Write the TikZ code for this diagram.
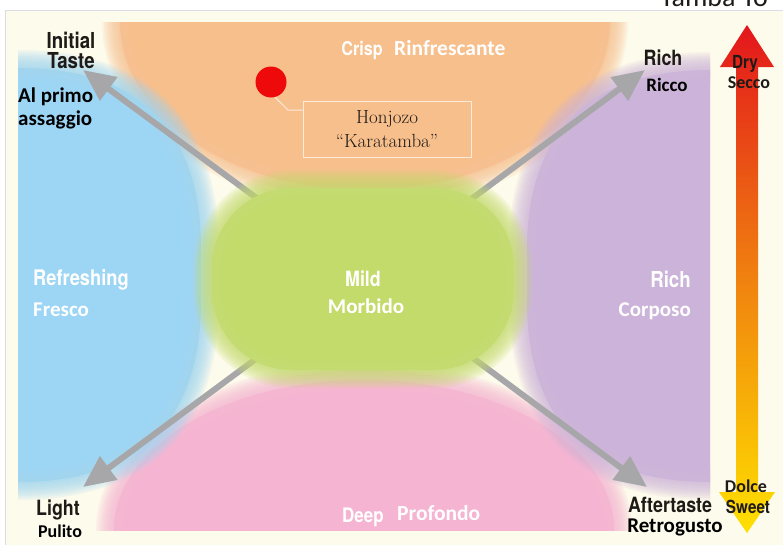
\documentclass[tikz,border=0pt]{standalone}
\usepackage{fontspec}
\usetikzlibrary{arrows.meta}
\newfontfamily\condf[FakeStretch=0.85]{TeX Gyre Heros}
\newfontfamily\calf{Carlito}
\definecolor{cream}{HTML}{FDFBEB}
\definecolor{frameline}{HTML}{DCDCE6}
\definecolor{orangeB}{HTML}{F7BF8C}
\definecolor{blueB}{HTML}{9DD5F4}
\definecolor{purpleB}{HTML}{CCB3D9}
\definecolor{pinkB}{HTML}{F5B4D1}
\definecolor{greenB}{HTML}{C3DB6A}
\definecolor{arrowgray}{HTML}{A7A7A9}
\definecolor{dotred}{HTML}{EE0A0A}
\definecolor{boxline}{HTML}{FCEBD9}
\definecolor{ink}{HTML}{1E1A17}
\definecolor{dryred}{HTML}{E3161C}
\definecolor{midorange}{HTML}{F0820F}
\definecolor{sweetyellow}{HTML}{FFE000}
\newcommand\softblob[2]{%
  \fill[#1] #2;
  \begin{scope}\clip #2;
    \foreach \w in {4,8,...,24}{\draw[cream, draw opacity=0.05, line width=\w pt] #2;}%
  \end{scope}
  \foreach \w in {4,8,...,36}{\draw[#1, draw opacity=0.14, line width=\w pt] #2;}%
}
\begin{document}
\begin{tikzpicture}[x=1pt,y=-1pt,
  cb/.style={font={\condf\bfseries\fontsize{#1}{#1}\selectfont}, inner sep=0pt, anchor=base},
  ca/.style={font={\calf\bfseries\fontsize{#1}{#1}\selectfont}, inner sep=0pt, anchor=base},
  garrow/.style={arrowgray, line width=6pt, -{Triangle[length=32pt, width=28pt]}},
]
\useasboundingbox (0,0) rectangle (783,544);
\fill[white] (0,0) rectangle (783,544);
\draw[frameline, fill=cream, line width=0.8pt] (5,10) rectangle (795,560);

% soft colour fields
\begin{scope}
\clip (18,22) rectangle (710,530);
\softblob{orangeB}{(365,22) ellipse [x radius=245pt, y radius=168pt]}
\softblob{pinkB}{(364,530) ellipse [x radius=250pt, y radius=150pt]}
\softblob{blueB}{(-10,68) -- (18,68) .. controls (130,68) and (201,120) .. (201,250) -- (201,300) .. controls (201,430) and (130,482) .. (18,482) -- (-10,482) -- cycle}
\softblob{purpleB}{(740,70) -- (710,70) .. controls (598,70) and (527,125) .. (527,250) -- (527,300) .. controls (527,430) and (598,482) .. (710,482) -- (740,482) -- cycle}
\end{scope}

% diagonal arrows
\coordinate (c) at (365,278);
\coordinate (tl) at (83,70);
\coordinate (tr) at (645,70);
\coordinate (bl) at (83,487);
\coordinate (br) at (647,487);
\draw[garrow] (c) -- (tl);
\draw[garrow] (c) -- (tr);
\draw[garrow] (c) -- (bl);
\draw[garrow] (c) -- (br);

% centre field
\softblob{greenB}{[rounded corners=80pt] (212,188) rectangle (514,370)}

% sample marker
\node[circle, fill=dotred, minimum size=31pt, inner sep=0pt] (dot) at (271,82) {};
\node[draw=boxline, line width=1pt, minimum width=168pt, minimum height=56pt, inner sep=0pt,
      align=center, text=ink, font={\fontsize{19}{24}\selectfont}] (box) at (387,129)
      {Honjozo\\“Karatamba”};
\coordinate (bend) at (288,110);
\draw[boxline, line width=1pt] (dot.-75) -- (bend) -- (bend -| box.west);

% dry / sweet arrow
\shade[top color=dryred, bottom color=sweetyellow, middle color=midorange]
  (747,25) -- (774,67) -- (758,67) -- (758,492) -- (775,492) -- (747,533)
  -- (719,492) -- (736,492) -- (736,67) -- (720,67) -- cycle;

% labels
\node[cb=22, text=ink] (init1) at (71,48) {Initial};
\node[cb=22, text=ink] (init2) at (71,68) {Taste};
\node[ca=21, text=black, anchor=base west] (prim1) at (18,102) {Al primo};
\node[ca=21, text=black, anchor=base west] (prim2) at (18,125) {assaggio};
\node[cb=19, text=white] (crisp) at (362,55) {Crisp};
\node[ca=21.5, text=white, anchor=base west] (rinf) at (394,55) {Rinfrescante};
\node[cb=21, text=ink] (rich1) at (663,65) {Rich};
\node[ca=19, text=black] (ricco) at (667,91) {Ricco};
\node[cb=18, text=ink] (dry) at (745,68) {Dry};
\node[ca=18, text=ink] (secco) at (749,88) {Secco};
\node[cb=21.5, text=white, anchor=base west] (refr) at (33,285) {Refreshing};
\node[ca=21, text=white, anchor=base west] (fresco) at (33,316) {Fresco};
\node[cb=21, text=white] (mild) at (363,286) {Mild};
\node[ca=21, text=white] (morb) at (366,313) {Morbido};
\node[cb=22, text=white, anchor=base east] (rich2) at (691,287) {Rich};
\node[ca=21, text=white, anchor=base east] (corp) at (691,316) {Corposo};
\node[cb=21, text=ink] (light) at (58,515) {Light};
\node[ca=18, text=black] (pulito) at (60,537) {Pulito};
\node[cb=20, text=white] (deep) at (363,522) {Deep};
\node[ca=21.5, text=white, anchor=base west] (prof) at (397,520) {Profondo};
\node[cb=21, text=ink] (after) at (670,512) {Aftertaste};
\node[ca=21, text=black] (retro) at (675,532) {Retrogusto};
\node[ca=18, text=ink] (dolce) at (746,492) {Dolce};
\node[cb=18, text=ink] (sweet) at (748,513) {Sweet};

% cropped heading at the top edge
\begin{scope}
\clip (0,0) rectangle (783,544);
\node[font={\calf\fontsize{28}{28}\selectfont}, text=ink, inner sep=0pt, anchor=base west] (tamba) at (660,6) {Tamba To};
\end{scope}
\end{tikzpicture}
\end{document}
